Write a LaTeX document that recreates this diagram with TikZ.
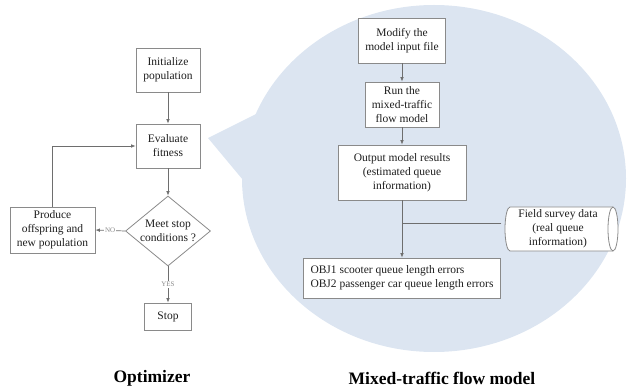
\documentclass[tikz,border=0pt]{standalone}
\usepackage{fontspec}
\setmainfont{Liberation Serif}
\usetikzlibrary{shapes.geometric,arrows.meta}

\definecolor{bubble}{HTML}{DCE5F1}
\definecolor{edgegray}{HTML}{8A8A8A}
\definecolor{linegray}{HTML}{6E6E6E}
\definecolor{inkgray}{HTML}{1E1E1E}

\tikzset{
  boxnode/.style={draw=edgegray, line width=0.8pt, fill=white, inner sep=0pt,
    align=center, text=inkgray, font=\fontsize{11.5}{14}\selectfont},
  decision/.style={boxnode, diamond, shape aspect=1.21},
  storetext/.style={inner sep=0pt, align=center, text=inkgray,
    font=\fontsize{11.5}{14}\selectfont},
  storeline/.style={draw=edgegray, line width=0.8pt},
  link/.style={draw=linegray, line width=0.7pt},
  flow/.style={link, -{Latex[length=4.5pt,width=3.6pt]}},
  branchlabel/.style={fill=white, inner sep=1pt, text=edgegray,
    font=\fontsize{7}{8}\selectfont},
  caption/.style={text=black, font=\bfseries\fontsize{17.5}{20}\selectfont}
}

\begin{document}
\begin{tikzpicture}[x=1pt, y=-1pt]
\useasboundingbox (0,0) rectangle (629,390);

% speech-bubble background of the simulation model
\fill[bubble] (208,138) -- (258,113) -- (300,160) -- (243,180) -- cycle;
\fill[bubble] (434,178.5) ellipse [x radius=192, y radius=173.5];

% optimizer loop
\node[boxnode, minimum width=64, minimum height=44] (init) at (168,70) {Initialize\\population};
\node[boxnode, minimum width=64, minimum height=44] (eval) at (168,146) {Evaluate\\fitness};
\node[decision, minimum width=85, minimum height=70] (meet) at (168,231) {Meet stop\\conditions ?};
\node[boxnode, minimum width=85, minimum height=46] (produce) at (52.5,230) {Produce\\offspring and\\new population};
\node[boxnode, minimum width=47, minimum height=27] (stop) at (168,316.5) {Stop};

\draw[flow] (init) -- (eval);
\draw[flow] (eval) -- (meet);
\draw[flow] (meet.west) -- node[branchlabel] {NO} (produce.east);
\draw[flow] (meet.south) -- node[branchlabel] {YES} (stop.north);
\draw[flow] (produce.north) |- (eval.west);

% mixed-traffic flow model
\node[boxnode, minimum width=87, minimum height=45] (modify) at (402,40.5) {Modify the\\model input file};
\node[boxnode, minimum width=74, minimum height=45] (run) at (402,104.5) {Run the\\mixed-traffic\\flow model};
\node[boxnode, minimum width=128, minimum height=55] (output) at (402,172.5) {Output model results\\(estimated queue\\information)};
\node[boxnode, minimum width=197, minimum height=40, align=left] (objs) at (402,278)
  {OBJ1 scooter queue length errors\\OBJ2 passenger car queue length errors};

% field data store: a horizontal cylinder
\begin{scope}[shift={(561.5,229)}, x=1pt, y=1pt]
  \path[storeline, fill=white] (-51.5,22) -- (51.5,22)
    arc[start angle=90, end angle=-90, x radius=5, y radius=22]
    -- (-51.5,-22)
    arc[start angle=270, end angle=90, x radius=5, y radius=22] -- cycle;
  \draw[storeline] (51.5,22) arc[start angle=90, end angle=270, x radius=5, y radius=22];
\end{scope}
\node[storetext, minimum width=113, minimum height=44] (field) at (558,229)
  {Field survey data\\(real queue\\information)};
\coordinate (join) at (402,223);

\draw[flow] (modify) -- (run);
\draw[flow] (run) -- (output);
\draw[flow] (output.south) -- (objs.north);
\draw[link] (join -| field.west) -- (join);

% captions
\node[caption] (optcap) at (152,378) {Optimizer};
\node[caption] (modcap) at (442,378) {Mixed-traffic flow model};
\end{tikzpicture}
\end{document}
